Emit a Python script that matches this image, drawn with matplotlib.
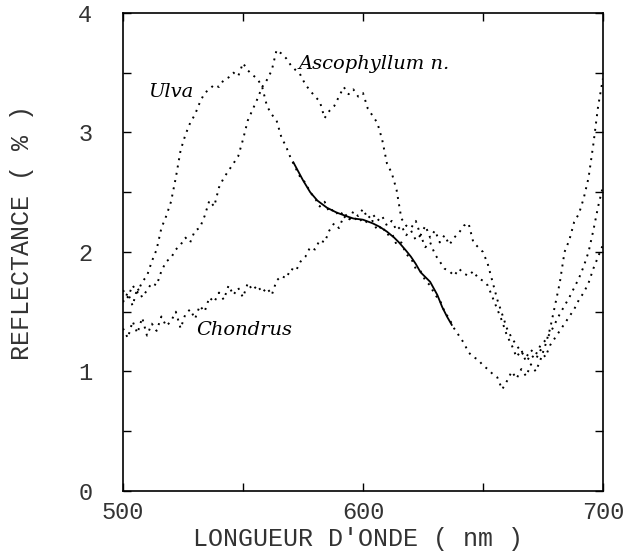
import numpy as np
import matplotlib
matplotlib.use("Agg")
import matplotlib.pyplot as plt

# wavelength grid (nm), one value every 2 nm
wl = np.arange(500, 701, 2)

# reflectance (%)
ulva = [1.68, 1.62, 1.72, 1.66, 1.75, 1.80, 1.92, 2.02, 2.20, 2.30,
        2.42, 2.62, 2.85, 2.98, 3.08, 3.15, 3.25, 3.33, 3.36, 3.40,
        3.38, 3.44, 3.46, 3.50, 3.47, 3.58, 3.52, 3.48, 3.45, 3.38,
        3.22, 3.15, 3.10, 2.96, 2.88, 2.78, 2.70, 2.62, 2.58, 2.50,
        2.45, 2.38, 2.42, 2.33, 2.36, 2.30, 2.34, 2.27, 2.30, 2.25,
        2.28, 2.24, 2.26, 2.18, 2.22, 2.14, 2.16, 2.06, 2.08, 1.98,
        1.95, 1.86, 1.84, 1.76, 1.72, 1.64, 1.60, 1.50, 1.44, 1.36,
        1.30, 1.24, 1.16, 1.12, 1.10, 1.05, 1.02, 0.98, 0.95, 0.85,
        0.92, 1.00, 0.94, 1.02, 0.96, 1.06, 1.00, 1.10, 1.22, 1.36,
        1.55, 1.74, 2.00, 2.10, 2.25, 2.32, 2.45, 2.62, 2.90, 3.22,
        3.45]

ascophyllum = [1.58, 1.66, 1.55, 1.70, 1.62, 1.68, 1.74, 1.72, 1.84, 1.92,
               1.95, 2.02, 2.06, 2.12, 2.08, 2.18, 2.20, 2.30, 2.43, 2.38,
               2.54, 2.62, 2.68, 2.74, 2.80, 2.94, 3.10, 3.19, 3.28, 3.38,
               3.44, 3.52, 3.69, 3.66, 3.62, 3.56, 3.52, 3.48, 3.40, 3.35,
               3.30, 3.26, 3.12, 3.18, 3.22, 3.30, 3.38, 3.32, 3.36, 3.30,
               3.33, 3.20, 3.14, 3.08, 2.94, 2.74, 2.66, 2.52, 2.28, 2.22,
               2.20, 2.26, 2.14, 2.22, 2.12, 2.18, 2.08, 2.14, 2.06, 2.12,
               2.16, 2.22, 2.24, 2.08, 2.04, 2.00, 1.90, 1.75, 1.60, 1.48,
               1.36, 1.28, 1.22, 1.16, 1.12, 1.18, 1.14, 1.22, 1.26, 1.32,
               1.40, 1.48, 1.55, 1.62, 1.70, 1.78, 1.88, 2.00, 2.18, 2.38,
               2.55]

chondrus = [1.36, 1.28, 1.42, 1.32, 1.45, 1.30, 1.40, 1.34, 1.46, 1.38,
            1.42, 1.50, 1.36, 1.48, 1.52, 1.44, 1.55, 1.50, 1.62, 1.58,
            1.66, 1.60, 1.72, 1.64, 1.70, 1.62, 1.74, 1.68, 1.72, 1.66,
            1.70, 1.64, 1.76, 1.80, 1.78, 1.86, 1.84, 1.92, 1.96, 2.04,
            2.02, 2.10, 2.08, 2.18, 2.24, 2.20, 2.30, 2.26, 2.34, 2.30,
            2.36, 2.28, 2.32, 2.26, 2.30, 2.22, 2.26, 2.18, 2.22, 2.14,
            2.18, 2.10, 2.14, 2.04, 2.08, 1.98, 1.92, 1.86, 1.84, 1.80,
            1.86, 1.82, 1.80, 1.84, 1.78, 1.76, 1.72, 1.62, 1.52, 1.42,
            1.30, 1.22, 1.12, 1.18, 1.08, 1.14, 1.10, 1.18, 1.12, 1.22,
            1.28, 1.34, 1.40, 1.46, 1.52, 1.60, 1.66, 1.74, 1.86, 1.96,
            2.06]

# smoothed trace drawn as a solid line over the Ulva spectrum
smooth_wl = [571, 575, 578, 581, 585, 589, 593, 596, 600, 604, 607, 610,
             613, 615, 618, 620, 622, 624, 628, 631, 633, 635, 637]
smooth_r = [2.75, 2.60, 2.50, 2.43, 2.37, 2.33, 2.30, 2.28, 2.27, 2.24, 2.21, 2.17,
            2.12, 2.08, 2.01, 1.96, 1.90, 1.83, 1.75, 1.64, 1.54, 1.46, 1.39]

txt = "#333333"
mono = "Liberation Mono"

fig = plt.figure(figsize=(6.34, 5.54), dpi=100)
ax = fig.add_axes([0.194, 0.1137, 0.757, 0.863])

dots = dict(color="black", linestyle=(0, (1.0, 2.8)), linewidth=1.4)
ax.plot(wl, ulva, **dots)
ax.plot(wl, ascophyllum, **dots)
ax.plot(wl, chondrus, **dots)
ax.plot(smooth_wl, smooth_r, color="black", linewidth=1.3)

ax.set_xlim(500, 700)
ax.set_ylim(0, 4)

ax.set_xticks([500, 550, 600, 650, 700])
ax.set_xticklabels(["500", "", "600", "", "700"])
ax.set_yticks(np.arange(0, 4.01, 0.5))
ax.set_yticklabels(["0", "", "1", "", "2", "", "3", "", "4"])
ax.tick_params(direction="in", top=True, right=True, length=6, width=1,
               colors="black", labelcolor=txt, labelsize=17)
ax.tick_params(axis="y", pad=22)
ax.tick_params(axis="x", pad=7)
for lab in ax.get_xticklabels() + ax.get_yticklabels():
    lab.set_family(mono)

for sp in ax.spines.values():
    sp.set_linewidth(1.2)

ax.set_xlabel("LONGUEUR D'ONDE ( nm )", family=mono, fontsize=18,
              color=txt, va="center")
ax.xaxis.set_label_coords(0.49, -0.1)
ax.set_ylabel("REFLECTANCE ( % )", family=mono, fontsize=18,
              color=txt, va="center")
ax.yaxis.set_label_coords(-0.21, 0.54)

# curve names
ax.text(520.0, 3.34, "Ulva", family="DejaVu Serif", style="italic",
        fontsize=14, color="black", ha="center", va="center")
ax.text(573.0, 3.57, "Ascophyllum n.", family="DejaVu Serif", style="italic",
        fontsize=14, color="black", ha="left", va="center")
ax.text(530.5, 1.35, "Chondrus", family="DejaVu Serif", style="italic",
        fontsize=14, color="black", ha="left", va="center")

plt.savefig("out.png", dpi=100)
